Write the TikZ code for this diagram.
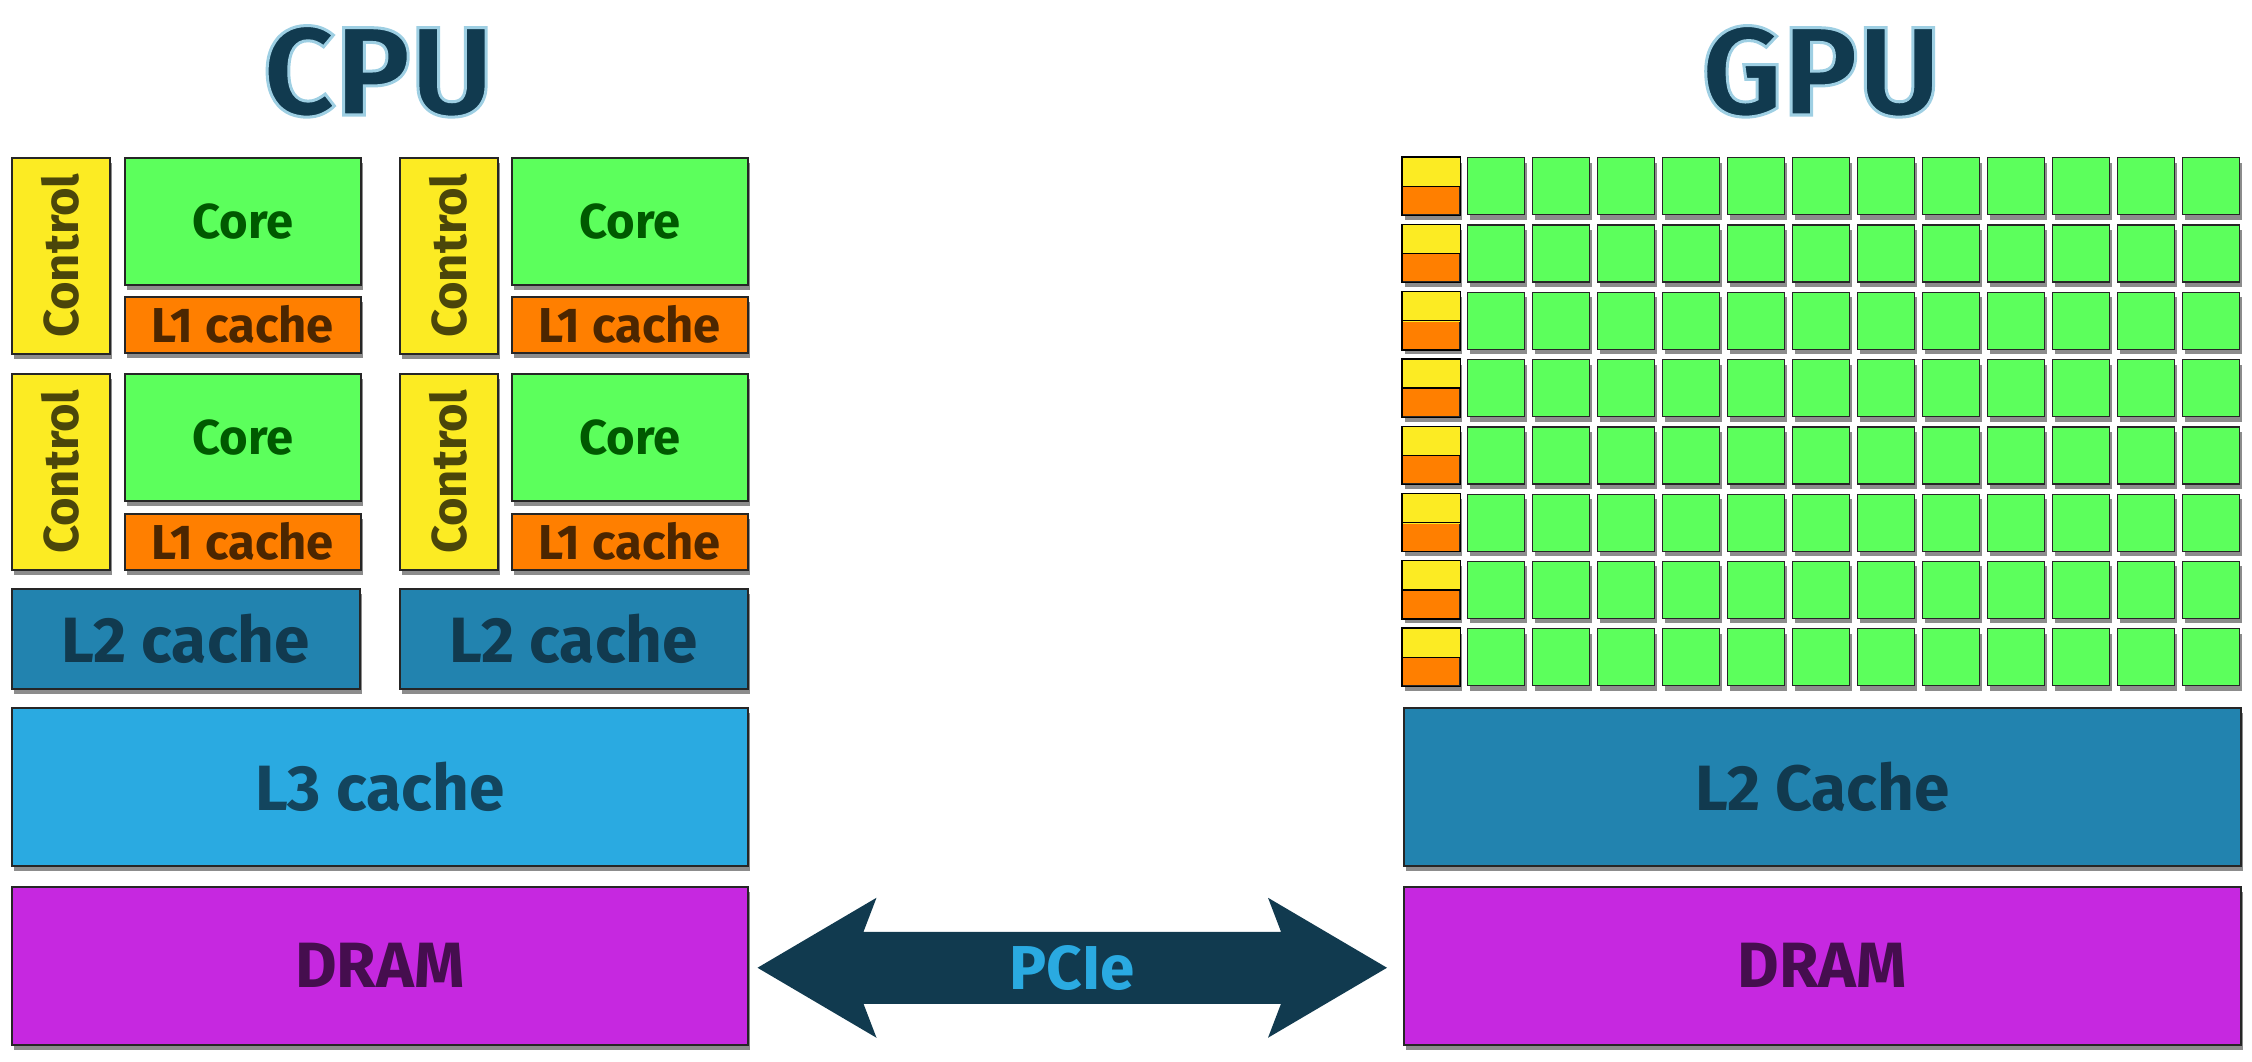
\documentclass[tikz,border=0pt]{standalone}
\usepackage{fontspec}
\setmainfont{Fira Sans}
\usetikzlibrary{positioning}
\usetikzlibrary{shadows}
\usetikzlibrary{calc}
\definecolor{ctrlyellow}{HTML}{FCEB23}
\definecolor{coregreen}{HTML}{5CFF5C}
\definecolor{lonecache}{HTML}{FF7F00}
\definecolor{ltwocache}{HTML}{2283AF}
\definecolor{lthreecache}{HTML}{2AAAE1}
\definecolor{dramfill}{HTML}{C628E0}
\definecolor{navy}{HTML}{113A4F}
% outlined title text, light blue rim
\newcommand{\glowtext}[1]{\special{pdf:code 2 Tr 3 w 0.62 0.81 0.89 RG}#1\special{pdf:code 0 Tr 0 0 0 RG}}
\tikzset{
unit/.style={ % Sets the properties for each block
draw=black!85,
line width=1.5pt,
inner sep=0pt,
anchor=north west,
drop shadow={shadow xshift=2pt, shadow yshift=-5pt, fill=black, opacity=0.45},
font=\bfseries\fontsize{49}{49}\selectfont},
ctrl/.style={unit, fill=ctrlyellow, text=ctrlyellow!30!black, minimum width=98pt, minimum height=196pt},
core/.style={unit, fill=coregreen, text=green!35!black, minimum width=236pt, minimum height=127pt},
lone/.style={unit, fill=lonecache, text=lonecache!30!black, minimum width=236pt, minimum height=56pt},
ltwo/.style={unit, fill=ltwocache, text=navy, minimum width=348pt, minimum height=100pt, font=\bfseries\fontsize{64}{64}\selectfont},
wide/.style={unit, minimum width=736pt, minimum height=158pt, font=\bfseries\fontsize{64}{64}\selectfont},
title/.style={anchor=base, text=navy, font=\bfseries\fontsize{126}{126}\selectfont},
sm/.style={unit, line width=1.3pt, minimum width=57pt, minimum height=57pt, fill=coregreen}}

\begin{document}
\begin{tikzpicture}[x=1pt, y=-1pt]
	\useasboundingbox (0,0) rectangle (2252,1061);
	% CPU side
	\node[title] (cpu) at (378,115) {\glowtext{CPU}};
	\node[ctrl] (c1) at (11,157) {\rotatebox{90}{Control}};
	\node[core] (k1) at (124,157) {Core};
	\node[lone] (l1) at (124,296) {L1 cache};
	\node[ctrl] (c2) at (399,157) {\rotatebox{90}{Control}};
	\node[core] (k2) at (511,157) {Core};
	\node[lone] (l2) at (511,296) {L1 cache};
	\node[ctrl] (c3) at (11,373) {\rotatebox{90}{Control}};
	\node[core] (k3) at (124,373) {Core};
	\node[lone] (l3) at (124,513) {L1 cache};
	\node[ctrl] (c4) at (399,373) {\rotatebox{90}{Control}};
	\node[core] (k4) at (511,373) {Core};
	\node[lone] (l4) at (511,513) {L1 cache};
	\node[ltwo] (cl2a) at (11,588) {L2 cache};
	\node[ltwo] (cl2b) at (399,588) {L2 cache};
	\node[wide, fill=lthreecache, text=navy!90!lthreecache] (cl3) at (11,707) {L3 cache};
	\node[wide, fill=dramfill, text=dramfill!35!black] (cdram) at (11,886) {DRAM};
	% GPU side
	\node[title] (gpu) at (1821,115) {\glowtext{GPU}};
	\foreach \r in {0,...,7} {
		\node[sm, fill=lonecache] (gc\r) at (1402,{157+67.3*\r}) {};
		\fill[ctrlyellow] (gc\r.north west) rectangle ($(gc\r.east)+(0,1)$);
		\draw[line width=1.3pt] (gc\r.north west) rectangle (gc\r.south east);
		\draw[line width=1.3pt] (gc\r.west) -- (gc\r.east);
		\foreach \c in {0,...,11}
			\node[sm] (g\r-\c) at ({1467+65*\c},{157+67.3*\r}) {};
	}
	\node[wide, fill=ltwocache, text=navy, minimum width=837pt] (gl2) at (1403,707) {L2 Cache};
	\node[wide, fill=dramfill, text=dramfill!35!black, minimum width=837pt] (gdram) at (1403,886) {DRAM};
	% PCIe link
	\coordinate (pl) at ($(cdram.east)+(9,2)$);
	\coordinate (pr) at ($(gdram.west)+(-16,2)$);
	\fill[navy] (pl) -- ++(119,-70) -- ++(-13,34) -- ($(pr)+(-106,-36)$) -- ++(-13,-34)
		-- (pr) -- ++(-119,70) -- ++(13,-34) -- ($(pl)+(106,36)$) -- ++(13,34) -- cycle;
	\node[text=lthreecache, font=\bfseries\fontsize{62}{62}\selectfont] (pcie) at ($(pl)!0.5!(pr)$) {PCIe};
\end{tikzpicture}
\end{document}
